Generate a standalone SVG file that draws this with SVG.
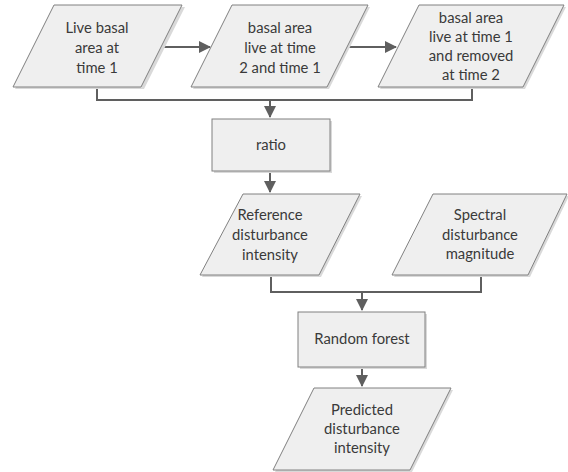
<svg xmlns="http://www.w3.org/2000/svg" width="568" height="472" viewBox="0 0 568 472">
<style>
.shape{fill:#efefef;stroke:#808080;stroke-width:1}
.shadow{fill:#d9d9d9;stroke:none}
.lbl{font-family:Lato,"Liberation Sans",sans-serif;font-size:14.8px;fill:#3a3a3a;text-anchor:middle}
.conn{fill:none;stroke:#5f5f5f;stroke-width:2}
</style>
<defs>
<marker id="arr" viewBox="0 0 12 12" refX="11" refY="6" markerWidth="6" markerHeight="6" orient="auto" markerUnits="strokeWidth">
<path d="M0,0 L12,6 L0,12 Z" fill="#5f5f5f"/>
</marker>
</defs>
<rect width="568" height="472" fill="#ffffff"/>
<g id="connectors">
<path class="conn" d="M161.5,47 H210" marker-end="url(#arr)"/>
<path class="conn" d="M347.5,47 H396" marker-end="url(#arr)"/>
<path class="conn" d="M97,87 V100 H472 V87"/>
<path class="conn" d="M270,100 V117" marker-end="url(#arr)"/>
<path class="conn" d="M270,171 V192" marker-end="url(#arr)"/>
<path class="conn" d="M271,275 V292 H481 V275"/>
<path class="conn" d="M362,292 V310" marker-end="url(#arr)"/>
<path class="conn" d="M362,367 V386" marker-end="url(#arr)"/>
</g>
<g id="live-basal">
<polygon class="shadow" points="57,7 185,7 144,89 15,89"/>
<polygon class="shape" points="54,5 182,5 141,87 13,87"/>
<text class="lbl" x="97" y="33">Live basal</text>
<text class="lbl" x="97" y="53">area at</text>
<text class="lbl" x="97" y="73">time 1</text>
</g>
<g id="basal-both">
<polygon class="shadow" points="234,7 370,7 329,89 193,89"/>
<polygon class="shape" points="232,5 368,5 327,87 191,87"/>
<text class="lbl" x="280" y="33">basal area</text>
<text class="lbl" x="280" y="53">live at time</text>
<text class="lbl" x="280" y="73">2 and time 1</text>
</g>
<g id="basal-removed">
<polygon class="shadow" points="421,7 566,7 525,89 380,89"/>
<polygon class="shape" points="419,5 564,5 523,87 378,87"/>
<text class="lbl" x="471" y="23">basal area</text>
<text class="lbl" x="471" y="42">live at time 1</text>
<text class="lbl" x="471" y="61">and removed</text>
<text class="lbl" x="471" y="80">at time 2</text>
</g>
<g id="ratio">
<rect class="shadow" x="214" y="121" width="118" height="52"/>
<rect class="shape" x="212" y="119" width="118" height="52"/>
<text class="lbl" x="271" y="150">ratio</text>
</g>
<g id="reference">
<polygon class="shadow" points="245,196 362,196 321,277 202,277"/>
<polygon class="shape" points="243,194 360,194 319,275 200,275"/>
<text class="lbl" x="270" y="220">Reference</text>
<text class="lbl" x="270" y="240">disturbance</text>
<text class="lbl" x="270" y="260">intensity</text>
</g>
<g id="spectral">
<polygon class="shadow" points="435,196 569,196 530,277 394,277"/>
<polygon class="shape" points="433,194 567,194 528,275 392,275"/>
<text class="lbl" x="480" y="220">Spectral</text>
<text class="lbl" x="480" y="240">disturbance</text>
<text class="lbl" x="480" y="259">magnitude</text>
</g>
<g id="random-forest">
<rect class="shadow" x="300" y="314" width="127" height="55"/>
<rect class="shape" x="298" y="312" width="127" height="55"/>
<text class="lbl" x="362" y="344">Random forest</text>
</g>
<g id="predicted">
<polygon class="shadow" points="316,390 453,390 412,472 275,472"/>
<polygon class="shape" points="314,388 451,388 410,470 273,470"/>
<text class="lbl" x="362" y="415">Predicted</text>
<text class="lbl" x="362" y="434">disturbance</text>
<text class="lbl" x="362" y="453">intensity</text>
</g>
</svg>
